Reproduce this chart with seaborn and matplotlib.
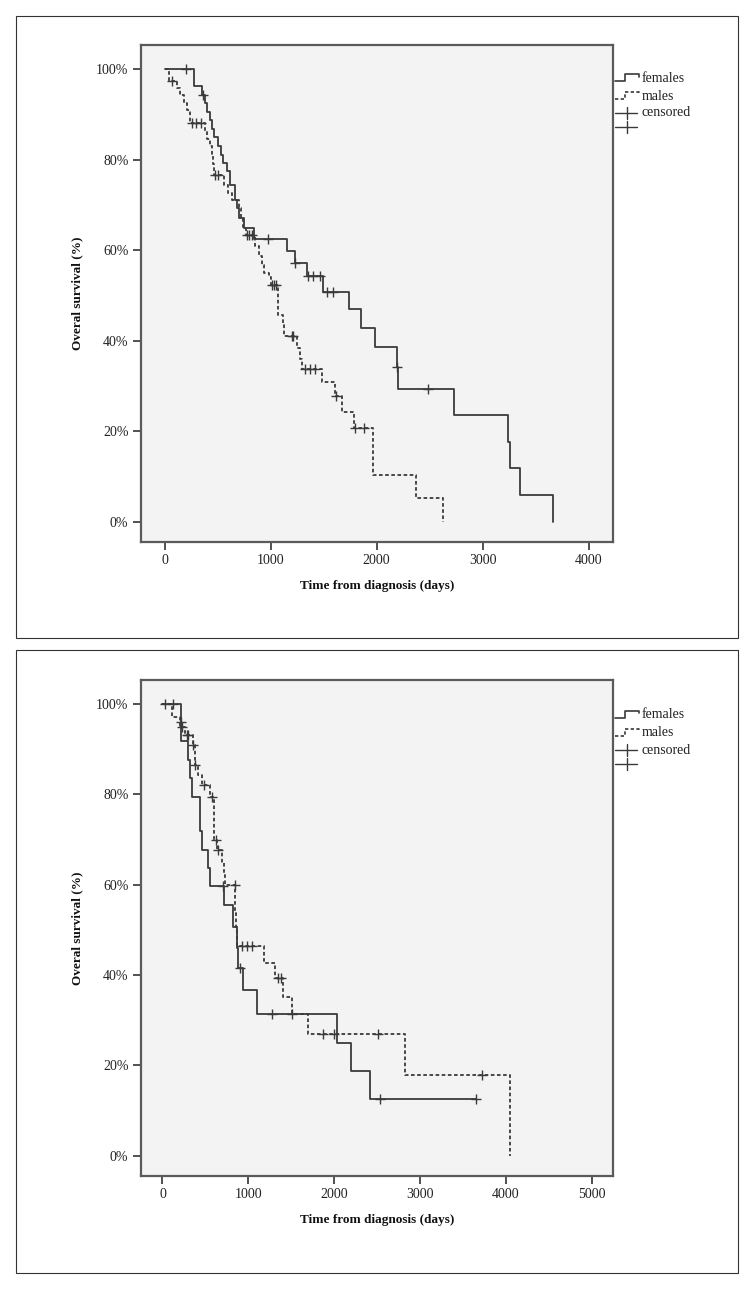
import numpy as np
import pandas as pd
import matplotlib
matplotlib.use("Agg")
import matplotlib.pyplot as plt
import seaborn as sns
from matplotlib.lines import Line2D
from matplotlib.patches import Rectangle

# ---------------- data (days, survival %) ----------------
# Top panel
top_f_days = [280, 350, 380, 400, 425, 450, 470, 500, 530, 555, 587, 618, 665, 687, 706, 750, 845,
              1153, 1231, 1341, 1492, 1741, 1851, 1986, 2190, 2200, 2731, 3240, 3259, 3354, 3666]
top_f_surv = [96.2, 94.3, 92.5, 90.6, 88.7, 86.8, 84.9, 83.0, 81.1, 79.2, 77.4, 74.4, 71.1, 69.2, 67.0, 64.8, 62.4,
              59.8, 57.1, 54.2, 50.8, 47.0, 42.8, 38.5, 34.2, 29.4, 23.5, 17.6, 11.8, 5.9, 0.0]
top_f_cens = [200, 360, 973, 1235, 1354, 1401, 1467, 1530, 1587, 2192, 2486]

top_m_days = [40, 120, 150, 185, 215, 240, 385, 405, 425, 445, 458, 470, 560, 600, 640, 700, 720, 745, 765,
              850, 895, 915, 935, 990, 1000, 1070, 1072, 1075, 1120, 1127, 1247, 1280, 1294,
              1483, 1608, 1678, 1788, 1964, 2373, 2626]
top_m_surv = [97.4, 95.8, 94.2, 92.5, 90.9, 88.0, 86.3, 84.6, 82.9, 81.2, 78.9, 76.6, 74.4, 72.7, 71.1, 69.2, 67.0, 65.2, 63.4,
              60.9, 58.6, 56.8, 55.0, 54.1, 52.3, 49.9, 47.8, 45.7, 43.5, 41.1, 38.4, 36.0, 33.7,
              30.8, 27.7, 24.3, 20.7, 10.4, 5.2, 0.0]
top_m_cens = [75, 260, 300, 340, 480, 500, 775, 800, 823, 1015, 1035, 1055, 1200, 1215,
              1325, 1373, 1420, 1618, 1797, 1882]

# Bottom panel
bot_f_days = [212, 215, 301, 320, 340, 437, 440, 457, 534, 554, 712, 826, 872, 885, 934, 1100, 2030, 2197, 2418]
bot_f_surv = [96.0, 91.8, 87.6, 83.6, 79.5, 75.5, 71.8, 67.7, 63.7, 59.8, 55.5, 50.7, 46.0, 41.5, 36.7, 31.3, 24.9, 18.8, 12.5]
bot_f_cens = [30, 126, 213, 709, 903, 1280, 2535, 3650]

bot_m_days = [107, 204, 260, 352, 375, 420, 457, 554, 600, 640, 690, 715, 733, 845, 850, 860, 870,
              1187, 1311, 1408, 1506, 1700, 2826, 4050]
bot_m_surv = [97.2, 95.0, 93.1, 91.0, 86.5, 84.3, 82.0, 79.5, 69.9, 67.7, 64.7, 62.2, 60.0, 55.5, 53.7, 50.7, 46.4,
              42.6, 39.3, 35.2, 31.3, 27.0, 17.9, 0.0]
bot_m_cens = [224, 282, 297, 360, 379, 487, 573, 624, 645, 840, 923, 981, 1040, 1343, 1381, 1515,
              1875, 2002, 2508, 3720]

y_ticks = [0, 20, 40, 60, 80, 100]
y_ticklabels = ["0%", "20%", "40%", "60%", "80%", "100%"]
top_x_ticks = [0, 1000, 2000, 3000, 4000]
bot_x_ticks = [0, 1000, 2000, 3000, 4000, 5000]
x_label = "Time from diagnosis (days)"
y_label = "Overal survival (%)"
legend_labels = ["females", "males", "censored"]

# ---------------- style ----------------
sns.set_style("ticks")
plt.rcParams["font.family"] = ["Liberation Serif", "DejaVu Serif"]
LC = "#3a3a3a"
FACE = "#f3f3f3"
SPINE = "#5a5a5a"
W, H = 754, 1289
DASH = (0, (2.0, 1.4))


def km_curve(days, surv, cens):
    x = np.concatenate([[0.0], np.asarray(days, float)])
    y = np.concatenate([[100.0], np.asarray(surv, float)])
    if len(cens) and max(cens) > x[-1]:
        x = np.append(x, max(cens))
        y = np.append(y, y[-1])
    return x, y


def censor_y(days, surv, cens):
    x = np.concatenate([[0.0], np.asarray(days, float)])
    y = np.concatenate([[100.0], np.asarray(surv, float)])
    idx = np.searchsorted(x, np.asarray(cens, float), side="right") - 1
    return y[idx]


def fx(px):
    return px / W


def fy(py):
    return 1 - py / H


fig = plt.figure(figsize=(W / 100, H / 100), dpi=100)
fig.patch.set_facecolor("white")

# outer frames
for (x0, y0, x1, y1) in [(16, 16, 738, 638), (16, 650, 738, 1273)]:
    fig.add_artist(Rectangle((fx(x0), fy(y1)), fx(x1) - fx(x0), fy(y0) - fy(y1),
                             transform=fig.transFigure, fill=False, edgecolor="#333333", linewidth=0.8))

panels = [
    dict(box=(141, 45, 613, 542), xlim=(-222, 4231), ylim=(-4.5, 105.3), xt=top_x_ticks,
         f=(top_f_days, top_f_surv, top_f_cens), m=(top_m_days, top_m_surv, top_m_cens), leg_y=78),
    dict(box=(141, 680, 613, 1176), xlim=(-250, 5250), ylim=(-4.5, 105.3), xt=bot_x_ticks,
         f=(bot_f_days, bot_f_surv, bot_f_cens), m=(bot_m_days, bot_m_surv, bot_m_cens), leg_y=715),
]

for p in panels:
    x0, y0, x1, y1 = p["box"]
    ax = fig.add_axes([fx(x0), fy(y1), fx(x1) - fx(x0), fy(y0) - fy(y1)])
    ax.set_facecolor(FACE)
    for grp, ls in [("f", "-"), ("m", DASH)]:
        d, s, c = p[grp]
        kx, ky = km_curve(d, s, c)
        df = pd.DataFrame({"day": kx, "surv": ky})
        sns.lineplot(data=df, x="day", y="surv", ax=ax, drawstyle="steps-post", estimator=None,
                     sort=False, color=LC, linewidth=1.3, linestyle=ls)
        cdf = pd.DataFrame({"day": np.asarray(c, float), "surv": censor_y(d, s, c)})
        sns.scatterplot(data=cdf, x="day", y="surv", ax=ax, marker="+", s=42, color=LC,
                        linewidth=1.0, zorder=4)
    ax.set_xlim(*p["xlim"])
    ax.set_ylim(*p["ylim"])
    ax.set_xticks(p["xt"])
    ax.set_xticklabels([str(t) for t in p["xt"]], fontsize=10)
    ax.set_yticks(y_ticks)
    ax.set_yticklabels(y_ticklabels, fontsize=10)
    ax.tick_params(axis="both", direction="out", length=6, width=1.2, color="#333333", pad=3,
                   labelcolor="#222222")
    ax.tick_params(axis="x", top=False)
    ax.tick_params(axis="y", right=False)
    for sp in ax.spines.values():
        sp.set_visible(True)
        sp.set_color(SPINE)
        sp.set_linewidth(1.6)
    ax.set_xlabel(x_label, fontsize=9.5, fontweight="bold", labelpad=9, color="#111111")
    ax.set_ylabel(y_label, fontsize=9.5, fontweight="bold", labelpad=9, color="#111111")

    # legend (outside right of the plot box)
    ly = p["leg_y"]
    hx0, hmid, hx1, tx = 615, 625, 639, 642
    fig.add_artist(Line2D([fx(hx0), fx(hmid), fx(hmid), fx(hx1), fx(hx1)],
                          [fy(ly + 3), fy(ly + 3), fy(ly - 4.5), fy(ly - 4.5), fy(ly - 1.5)],
                          transform=fig.transFigure, color=LC, linewidth=1.2))
    fig.text(fx(tx), fy(ly), legend_labels[0], fontsize=10, va="center", ha="left", color="#222222")
    ly2 = ly + 18
    fig.add_artist(Line2D([fx(hx0), fx(hmid), fx(hmid), fx(hx1), fx(hx1)],
                          [fy(ly2 + 3), fy(ly2 + 3), fy(ly2 - 4.5), fy(ly2 - 4.5), fy(ly2 - 1.5)],
                          transform=fig.transFigure, color=LC, linewidth=1.2, linestyle=DASH))
    fig.text(fx(tx), fy(ly2), legend_labels[1], fontsize=10, va="center", ha="left", color="#222222")
    for k, yy in enumerate([ly + 35, ly + 49]):
        fig.add_artist(Line2D([fx(hx0), fx(637)], [fy(yy), fy(yy)], transform=fig.transFigure,
                              color=LC, linewidth=1.0))
        fig.add_artist(Line2D([fx(627), fx(627)], [fy(yy - 6), fy(yy + 6)], transform=fig.transFigure,
                              color=LC, linewidth=1.0))
        if k == 0:
            fig.text(fx(tx), fy(yy), legend_labels[2], fontsize=10, va="center", ha="left", color="#222222")

fig.savefig("out.png", dpi=100, facecolor="white")
